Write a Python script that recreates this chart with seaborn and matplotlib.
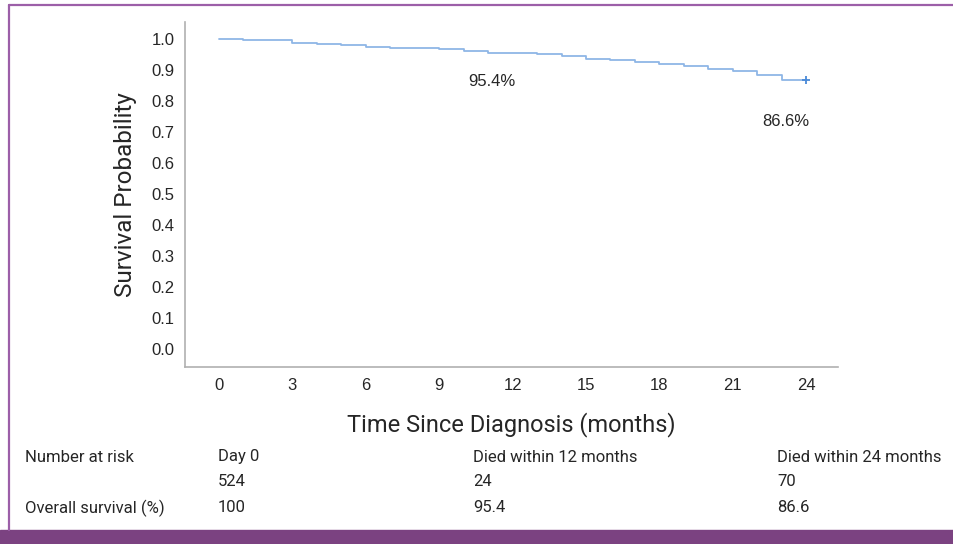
import pandas as pd
import matplotlib.pyplot as plt
import seaborn as sns
from matplotlib.patches import Rectangle
from matplotlib.lines import Line2D

# Kaplan-Meier curve (monthly steps)
months = list(range(0, 25))
survival = [1.000, 0.997, 0.995, 0.987, 0.984, 0.980, 0.975, 0.972, 0.969,
            0.966, 0.962, 0.956, 0.954, 0.950, 0.946, 0.936, 0.931, 0.926,
            0.920, 0.914, 0.903, 0.897, 0.885, 0.866, 0.866]

x_ticks = [0, 3, 6, 9, 12, 15, 18, 21, 24]
y_ticks = [0.0, 0.1, 0.2, 0.3, 0.4, 0.5, 0.6, 0.7, 0.8, 0.9, 1.0]

# at-risk table
table_headers = ["Day 0", "Died within 12 months", "Died within 24 months"]
at_risk = ["524", "24", "70"]
overall = ["100", "95.4", "86.6"]

W, H = 954, 544
curve_color = "#8fb6e6"
purple = "#7b4281"

sns.set_style("white")
plt.rcParams['font.family'] = ['Liberation Sans', 'DejaVu Sans']

fig = plt.figure(figsize=(W / 100, H / 100), dpi=100)
ax = fig.add_axes([185.5 / W, 1 - 367 / H, (838 - 185.5) / W, (367 - 21.5) / H])

df = pd.DataFrame({"month": months, "surv": survival})
sns.lineplot(data=df, x="month", y="surv", drawstyle="steps-post",
             color=curve_color, linewidth=1.3, ax=ax)
# censor mark at the end
sns.scatterplot(x=[months[-1]], y=[survival[-1]], marker="+", s=40,
                color="#4a8ad8", linewidth=1.3, ax=ax, zorder=5)

ax.set_xlim(-1.37, 25.3)
ax.set_ylim(-0.058, 1.056)
ax.set_xticks(x_ticks)
ax.set_yticks(y_ticks)
ax.set_yticklabels([f"{v:.1f}" for v in y_ticks])
ax.tick_params(length=0, labelsize=12, pad=8)
for s in ["top", "right"]:
    ax.spines[s].set_visible(False)
for s in ["left", "bottom"]:
    ax.spines[s].set_color("#b0b0b0")
    ax.spines[s].set_linewidth(1.2)

ax.set_xlabel("Time Since Diagnosis (months)", fontsize=17, family=["Roboto", "DejaVu Sans"], labelpad=14)
ax.set_ylabel("Survival Probability", fontsize=17.5, family=["Roboto", "DejaVu Sans"], labelpad=10)

ax.text(11.16, 0.861, f"{survival[12] * 100:.1f}%", fontsize=12, ha="center", va="center")
ax.text(23.18, 0.735, f"{survival[24] * 100:.1f}%", fontsize=12, ha="center", va="center")

# number-at-risk table below the plot
tfont = dict(fontsize=12, family=["Roboto", "DejaVu Sans"], va="center", ha="left")
col_x = [218, 473, 777]
fig.text(25 / W, 1 - 457 / H, "Number at risk", **tfont)
fig.text(25 / W, 1 - 508 / H, "Overall survival (%)", **tfont)
for cx, h, r, o in zip(col_x, table_headers, at_risk, overall):
    fig.text(cx / W, 1 - 457 / H, h, **tfont)
    fig.text(cx / W, 1 - 481 / H, r, **tfont)
    fig.text(cx / W, 1 - 508 / H, o, **tfont)

# purple frame and footer bar
fig.patches.append(Rectangle((0, 0), 1, 14 / H, transform=fig.transFigure,
                             color=purple, zorder=0))
fig.lines.append(Line2D([9 / W, 1], [1 - 5 / H, 1 - 5 / H], transform=fig.transFigure,
                        color="#9c5fa8", linewidth=1.6))
fig.lines.append(Line2D([9 / W, 9 / W], [14 / H, 1 - 5 / H], transform=fig.transFigure,
                        color="#9c5fa8", linewidth=1.6))

fig.savefig("out.png", dpi=100)
